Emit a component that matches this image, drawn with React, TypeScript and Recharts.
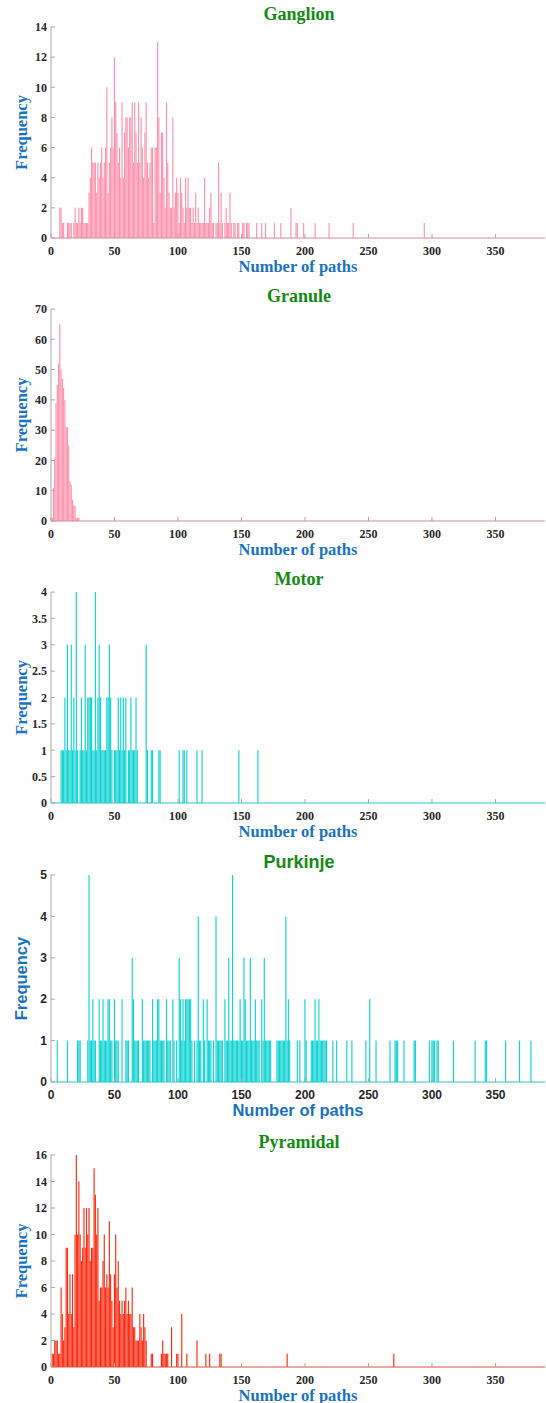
import { BarChart, Bar, XAxis, YAxis } from "recharts";

document.body.style.margin = "0";

// histogram bins: [number of paths, frequency]
const ganglion: [number, number][] = [
  [7, 2], [8, 2], [9, 1], [10, 1], [13, 1], [14, 1], [15, 1], [16, 1], [18, 1], [19, 2],
  [20, 1], [21, 1], [22, 2], [23, 1], [24, 2], [25, 2], [26, 1], [27, 1], [28, 1], [29, 1],
  [30, 3], [31, 4], [32, 6], [33, 5], [34, 5], [35, 5], [36, 3], [37, 5], [38, 4], [39, 5],
  [40, 6], [41, 4], [42, 5], [43, 6], [44, 10], [45, 3], [46, 5], [47, 6], [48, 8], [49, 6],
  [50, 12], [51, 9], [52, 7], [53, 5], [54, 6], [55, 4], [56, 9], [57, 4], [58, 7], [59, 8],
  [60, 8], [61, 6], [62, 8], [63, 8], [64, 9], [65, 5], [66, 9], [67, 7], [68, 5], [69, 9],
  [70, 5], [71, 8], [72, 6], [73, 4], [74, 7], [75, 9], [76, 5], [77, 4], [78, 5], [79, 6],
  [80, 6], [81, 1], [82, 6], [83, 6], [84, 13], [85, 8], [86, 3], [87, 7], [88, 7], [89, 4],
  [90, 2], [91, 9], [92, 5], [93, 3], [94, 2], [95, 2], [96, 8], [97, 2], [98, 3], [99, 4],
  [100, 3], [101, 1], [102, 4], [103, 3], [104, 2], [105, 1], [106, 4], [107, 2], [108, 4], [109, 2],
  [110, 2], [111, 1], [112, 2], [113, 1], [114, 3], [115, 1], [116, 2], [117, 1], [118, 1], [119, 1],
  [120, 1], [121, 4], [122, 1], [123, 1], [124, 1], [125, 2], [126, 3], [127, 1], [128, 1], [130, 1],
  [131, 1], [132, 5], [133, 1], [134, 3], [135, 1], [137, 1], [138, 2], [139, 1], [140, 1], [141, 3],
  [142, 1], [144, 1], [145, 1], [147, 1], [148, 1], [151, 1], [152, 1], [154, 1], [155, 1], [156, 1],
  [162, 1], [166, 1], [169, 1], [176, 1], [181, 1], [189, 2], [193, 1], [194, 1], [199, 1], [208, 1],
  [219, 1], [238, 1], [294, 1],
];

const granule: [number, number][] = [
  [1, 1], [2, 11], [3, 21], [4, 39], [5, 45], [6, 52], [7, 65], [8, 50], [9, 47], [10, 44],
  [11, 40], [12, 31], [13, 31], [14, 25], [15, 13], [16, 12], [17, 7], [18, 5], [19, 5], [20, 1],
  [21, 1], [22, 1],
];

const motor: [number, number][] = [
  [8, 1], [9, 1], [10, 1], [11, 2], [12, 1], [13, 3], [14, 1], [15, 1], [16, 3], [17, 1],
  [18, 2], [19, 1], [20, 4], [21, 1], [23, 1], [24, 2], [25, 1], [26, 1], [27, 3], [28, 1],
  [29, 2], [30, 2], [31, 2], [32, 2], [33, 1], [34, 1], [35, 4], [36, 1], [37, 2], [38, 3],
  [39, 2], [40, 1], [41, 1], [42, 1], [43, 1], [44, 2], [45, 2], [46, 3], [47, 2], [48, 1],
  [50, 1], [51, 1], [52, 1], [53, 2], [54, 1], [55, 2], [56, 1], [57, 2], [58, 1], [59, 2],
  [61, 1], [62, 1], [63, 2], [64, 1], [65, 1], [66, 1], [67, 2], [68, 1], [75, 3], [76, 1],
  [79, 1], [80, 1], [85, 1], [86, 1], [101, 1], [104, 1], [105, 1], [107, 1], [115, 1], [119, 1],
  [148, 1], [163, 1],
];

const purkinje: [number, number][] = [
  [5, 1], [13, 1], [21, 1], [22, 1], [23, 1], [29, 1], [30, 5], [31, 1], [32, 1], [33, 2],
  [34, 1], [35, 1], [38, 2], [39, 1], [40, 1], [41, 2], [42, 1], [43, 1], [44, 1], [45, 2],
  [46, 2], [47, 1], [48, 1], [50, 2], [51, 1], [52, 1], [53, 1], [56, 2], [59, 1], [60, 1],
  [61, 1], [64, 3], [65, 2], [66, 1], [67, 1], [68, 1], [69, 1], [72, 2], [73, 1], [74, 1],
  [75, 1], [76, 1], [77, 1], [78, 1], [80, 2], [81, 1], [82, 1], [83, 1], [84, 2], [85, 2],
  [86, 1], [87, 1], [88, 1], [89, 1], [91, 2], [92, 1], [93, 1], [94, 1], [96, 2], [97, 1],
  [99, 1], [101, 3], [102, 2], [103, 1], [104, 2], [105, 1], [106, 2], [107, 2], [108, 2], [109, 2],
  [110, 2], [111, 1], [113, 1], [115, 1], [116, 4], [117, 1], [118, 1], [120, 2], [121, 1], [123, 2],
  [124, 1], [125, 1], [126, 1], [128, 1], [130, 4], [131, 1], [132, 1], [133, 1], [134, 1], [135, 1],
  [137, 2], [138, 1], [139, 1], [140, 3], [141, 1], [142, 1], [143, 5], [144, 1], [145, 1], [146, 1],
  [147, 1], [148, 1], [149, 2], [150, 1], [151, 1], [152, 3], [153, 2], [154, 1], [155, 1], [156, 1],
  [157, 3], [158, 1], [159, 1], [160, 1], [161, 2], [162, 1], [163, 1], [164, 1], [166, 2], [167, 1],
  [168, 3], [169, 1], [170, 1], [171, 1], [172, 1], [173, 1], [178, 1], [179, 1], [180, 1], [181, 1],
  [182, 1], [183, 1], [184, 1], [185, 4], [186, 1], [187, 2], [188, 1], [194, 1], [196, 1], [200, 2],
  [201, 1], [205, 1], [206, 1], [207, 1], [208, 2], [209, 1], [210, 1], [211, 2], [212, 1], [213, 1],
  [214, 1], [215, 1], [216, 1], [217, 1], [222, 1], [225, 1], [233, 1], [237, 1], [248, 1], [251, 2],
  [256, 1], [267, 1], [271, 1], [272, 1], [273, 1], [278, 1], [286, 1], [287, 1], [298, 1], [300, 1],
  [301, 1], [302, 1], [304, 1], [305, 1], [317, 1], [334, 1], [342, 1], [343, 1], [358, 1], [369, 1],
  [378, 1],
];

const pyramidal: [number, number][] = [
  [1, 1], [2, 1], [3, 2], [4, 2], [5, 2], [6, 1], [7, 1], [8, 6], [9, 4], [10, 2],
  [11, 3], [12, 9], [13, 9], [14, 4], [15, 7], [16, 4], [17, 7], [18, 3], [19, 10], [20, 16],
  [21, 10], [22, 14], [23, 10], [24, 8], [25, 9], [26, 12], [27, 9], [28, 12], [29, 10], [30, 12],
  [31, 8], [32, 9], [33, 9], [34, 15], [35, 13], [36, 10], [37, 12], [38, 5], [39, 6], [40, 6],
  [41, 8], [42, 10], [43, 6], [44, 7], [45, 6], [46, 11], [47, 7], [48, 5], [49, 3], [50, 7],
  [51, 10], [52, 6], [53, 8], [54, 5], [55, 4], [56, 5], [57, 4], [58, 5], [59, 6], [60, 4],
  [61, 5], [62, 4], [63, 4], [64, 6], [65, 3], [66, 3], [67, 2], [68, 2], [69, 2], [70, 4],
  [71, 3], [72, 2], [73, 4], [74, 3], [75, 2], [79, 1], [80, 1], [87, 1], [88, 2], [89, 1],
  [90, 1], [91, 1], [92, 1], [95, 3], [99, 1], [100, 1], [103, 4], [107, 1], [115, 2], [122, 1],
  [125, 1], [133, 1], [134, 1], [186, 1], [270, 1],
];

const xTicks = [0, 50, 100, 150, 200, 250, 300, 350];
const ganglionTicks = [0, 2, 4, 6, 8, 10, 12, 14];
const granuleTicks = [0, 10, 20, 30, 40, 50, 60, 70];
const motorTicks = [0, 0.5, 1, 1.5, 2, 2.5, 3, 3.5, 4];
const purkinjeTicks = [0, 1, 2, 3, 4, 5];
const pyramidalTicks = [0, 2, 4, 6, 8, 10, 12, 14, 16];

const SERIF = '"Liberation Serif", "Times New Roman", serif';
const SANS = '"Liberation Sans", Arial, sans-serif';
const GRID = "#a9a9a9";
const BLUE = "#1a73c0";
const GREEN = "#138a13";
const X_MAX = 389;

type Panel = {
  title: string;
  data: [number, number][];
  yTicks: number[];
  color: string;
  base: string;
  top: number;
  height: number;
  font: string;
};

const panels: Panel[] = [
  { title: "Ganglion", data: ganglion, yTicks: ganglionTicks, color: "#fd93ad", base: "#cf8c9d", top: 27, height: 211, font: SERIF },
  { title: "Granule", data: granule, yTicks: granuleTicks, color: "#fd93ad", base: "#cf8c9d", top: 309, height: 212, font: SERIF },
  { title: "Motor", data: motor, yTicks: motorTicks, color: "#0fd3d3", base: "#35c4c4", top: 592, height: 211, font: SERIF },
  { title: "Purkinje", data: purkinje, yTicks: purkinjeTicks, color: "#0fd3d3", base: "#35c4c4", top: 875, height: 207, font: SANS },
  { title: "Pyramidal", data: pyramidal, yTicks: pyramidalTicks, color: "#ff2a10", base: "#d8553f", top: 1155, height: 212, font: SERIF },
];

const MARGIN_TOP = 30;
const X_AXIS_H = 50;

function Histogram({ p }: { p: Panel }) {
  const rows = p.data.map(([x, n]) => ({ x, n }));
  const h = MARGIN_TOP + p.height + X_AXIS_H;
  const yMax = p.yTicks[p.yTicks.length - 1];
  const tickStyle = { fill: "#262626", fontSize: 12, fontWeight: 700, fontFamily: p.font };

  return (
    <div style={{ position: "absolute", left: 0, top: p.top - MARGIN_TOP, width: 546, height: h }}>
      <svg width={546} height={MARGIN_TOP} style={{ position: "absolute", left: 0, top: 0 }}>
        <text
          x={299}
          y={MARGIN_TOP - 7}
          textAnchor="middle"
          fill={GREEN}
          fontSize={18}
          fontWeight={700}
          fontFamily={p.font}
        >
          {p.title}
        </text>
      </svg>
      <BarChart
        width={546}
        height={h}
        data={rows}
        margin={{ top: MARGIN_TOP, right: 1, bottom: 0, left: 0 }}
      >
        <XAxis
          dataKey="x"
          type="number"
          domain={[0, X_MAX]}
          ticks={xTicks}
          height={X_AXIS_H}
          tickSize={-4}
          tickMargin={12}
          tick={tickStyle}
          tickLine={{ stroke: GRID }}
          axisLine={{ stroke: p.base }}
          label={{
            value: "Number of paths",
            position: "insideBottom",
            offset: 16,
            fill: BLUE,
            fontSize: 16.5,
            fontWeight: 700,
            fontFamily: p.font,
          }}
        />
        <XAxis
          xAxisId="top"
          orientation="top"
          type="number"
          domain={[0, X_MAX]}
          ticks={xTicks}
          height={0}
          tickSize={-4}
          tick={false}
          tickLine={{ stroke: GRID }}
          axisLine={{ stroke: GRID }}
        />
        <YAxis
          type="number"
          domain={[0, yMax]}
          ticks={p.yTicks}
          width={51}
          tickSize={-4}
          tickMargin={8}
          tick={tickStyle}
          tickLine={{ stroke: GRID }}
          axisLine={{ stroke: GRID }}
          label={(props: any) => {
            const vb = props.viewBox || { y: MARGIN_TOP, height: p.height };
            const cy = vb.y + vb.height / 2;
            return (
              <text
                x={27}
                y={cy}
                transform={`rotate(-90 27 ${cy})`}
                textAnchor="middle"
                fill={BLUE}
                fontSize={16.5}
                fontWeight={700}
                fontFamily={p.font}
              >
                Frequency
              </text>
            );
          }}
        />
        <YAxis
          yAxisId="right"
          orientation="right"
          type="number"
          domain={[0, yMax]}
          ticks={p.yTicks}
          width={0}
          tickSize={-4}
          tick={false}
          tickLine={{ stroke: GRID }}
          axisLine={{ stroke: GRID }}
        />
        <Bar dataKey="n" fill={p.color} barSize={2} isAnimationActive={false} />
      </BarChart>
    </div>
  );
}

export default function App() {
  return (
    <div style={{ position: "relative", width: 546, height: 1403, background: "#fff" }}>
      {panels.map((p) => (
        <Histogram key={p.title} p={p} />
      ))}
    </div>
  );
}
